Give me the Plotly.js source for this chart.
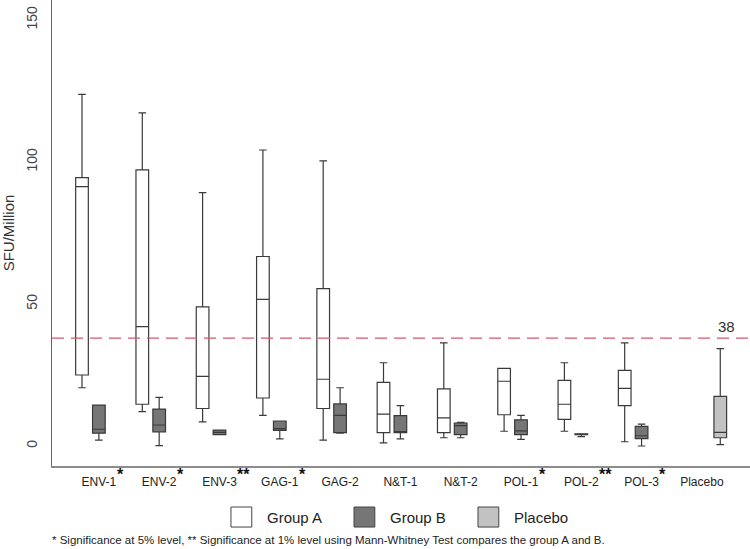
<!DOCTYPE html>
<html>
<head>
<meta charset="utf-8">
<script src="https://cdn.plot.ly/plotly-3.0.1.min.js"></script>
<style>html,body{margin:0;padding:0;background:#fff;}#chart{width:750px;height:549px;}</style>
</head>
<body>
<div id="chart"></div>
<script>
// ---- data ----
const categories = ['ENV-1', 'ENV-2', 'ENV-3', 'GAG-1', 'GAG-2', 'N&T-1', 'N&T-2', 'POL-1', 'POL-2', 'POL-3'];
const stars      = ['*', '*', '**', '*', '', '', '', '*', '**', '*'];

// Group A box statistics
const aLower  = [20.5, 12.1, 8.5, 10.8, 2.1, 1.1, 2.9, 5.2, 5.2, 1.5];
const aQ1     = [25.0, 14.7, 13.2, 16.9, 13.2, 4.7, 4.7, 11.0, 9.4, 14.2];
const aMedian = [91.3, 42.0, 24.5, 51.6, 23.5, 11.2, 9.9, 22.8, 14.7, 20.3];
const aQ3     = [94.5, 97.2, 49.0, 66.7, 55.4, 22.4, 20.1, 27.3, 23.1, 26.6];
const aUpper  = [123.8, 117.3, 89.2, 104.2, 100.4, 29.3, 36.3, 27.3, 29.3, 36.3];

// Group B box statistics
const bLower  = [2.1, 0.1, 4.0, 2.5, 4.5, 2.5, 2.9, 2.3, 3.3, 0.0];
const bQ1     = [4.5, 5.0, 4.0, 5.5, 4.7, 4.7, 4.0, 4.0, 4.0, 2.6];
const bMedian = [5.9, 7.4, 4.8, 6.1, 10.8, 5.0, 7.2, 5.3, 4.2, 3.6];
const bQ3     = [14.4, 13.0, 5.6, 8.8, 14.8, 10.7, 8.1, 9.2, 4.3, 6.9];
const bUpper  = [14.4, 17.1, 5.6, 8.8, 20.5, 14.2, 8.3, 10.8, 4.3, 7.7];

// Placebo box statistics
const placeboLabel  = 'Placebo';
const placeboLower  = [0.5];
const placeboQ1     = [2.9];
const placeboMedian = [4.8];
const placeboQ3     = [17.5];
const placeboUpper  = [34.3];

const threshold = 38;
const yTicks = [0, 50, 100, 150];
const legendNames = ['Group A', 'Group B', 'Placebo'];
const footnote = '* Significance at 5% level, ** Significance at 1% level using Mann-Whitney Test compares the group A and B.';

// ---- layout helpers ----
const colA = '#ffffff', colB = '#767676', colP = '#c2c2c2', boxLine = '#3a3a3a';
const offB = 0.28, offP = 0.585, boxW = 0.21;
const font = 'Liberation Sans, Arial, sans-serif';
const tickSize = 12;

const aPos = categories.map((_, i) => i);
const bPos = categories.map((_, i) => i + offB);
const pPos = [categories.length + offP];
const allLabels = categories.concat([placeboLabel]);
const tickPos = allLabels.map((_, i) => i + offB);

function boxTrace(name, x, lo, q1, med, q3, up, fill) {
  return {
    type: 'box', name: name, x: x,
    lowerfence: lo, q1: q1, median: med, q3: q3, upperfence: up,
    width: boxW, whiskerwidth: 0.6, boxpoints: false,
    fillcolor: fill, line: { color: boxLine, width: 1.2 },
    showlegend: false, hoverinfo: 'skip'
  };
}

const data = [
  boxTrace(legendNames[0], aPos, aLower, aQ1, aMedian, aQ3, aUpper, colA),
  boxTrace(legendNames[1], bPos, bLower, bQ1, bMedian, bQ3, bUpper, colB),
  boxTrace(legendNames[2], pPos, placeboLower, placeboQ1, placeboMedian, placeboQ3, placeboUpper, colP)
];

// measure tick label widths so significance stars sit just after each label
const ctx = document.createElement('canvas').getContext('2d');
ctx.font = tickSize + 'px "Liberation Sans", Arial, sans-serif';

const shapes = [{
  type: 'line', xref: 'paper', x0: 0, x1: 1, yref: 'y', y0: threshold, y1: threshold,
  line: { color: '#d4586a', width: 1.3, dash: '12px,7px' }
}];
const annotations = [{
  xref: 'paper', x: 0.981, yref: 'y', y: threshold, yshift: 12, text: String(threshold),
  showarrow: false, font: { family: font, size: 15, color: '#333' }
}];

categories.forEach((c, i) => {
  if (!stars[i]) return;
  const w = ctx.measureText(c).width;
  annotations.push({
    xref: 'x', x: tickPos[i], xanchor: 'left', xshift: w / 2 - 1.5,
    yref: 'paper', y: 0, yanchor: 'top', yshift: 2,
    text: stars[i], showarrow: false,
    font: { family: font, size: 16, color: '#111', weight: 'bold' }
  });
});

// legend drawn below the plot
const legendFills = [colA, colB, colP];
const legendX = [0.2564, 0.4327, 0.6103];
const sqW = 0.0298, legY0 = -0.088, legY1 = -0.131;
legendNames.forEach((n, i) => {
  shapes.push({
    type: 'rect', xref: 'paper', yref: 'paper',
    x0: legendX[i], x1: legendX[i] + sqW, y0: legY0, y1: legY1,
    fillcolor: legendFills[i], line: { color: '#444', width: 1 }
  });
  annotations.push({
    xref: 'paper', yref: 'paper', x: legendX[i] + sqW + 0.019, y: (legY0 + legY1) / 2,
    xanchor: 'left', yanchor: 'middle', text: n, showarrow: false,
    font: { family: font, size: 15, color: '#222' }
  });
});
annotations.push({
  xref: 'paper', yref: 'paper', x: -0.003, y: -0.1588, xanchor: 'left', yanchor: 'middle',
  text: footnote, showarrow: false, font: { family: font, size: 11.5, color: '#222' }
});

const layout = {
  width: 750, height: 549,
  margin: { l: 52, r: 0, t: 0, b: 83, pad: 0 },
  paper_bgcolor: '#ffffff', plot_bgcolor: '#ffffff',
  showlegend: false, boxmode: 'overlay',
  font: { family: font },
  xaxis: {
    range: [-0.4975, 11.078], tickmode: 'array', tickvals: tickPos, ticktext: allLabels,
    showgrid: false, zeroline: false, showline: true, linecolor: '#8c8c8c', linewidth: 2,
    ticks: '', ticklabelstandoff: 4, tickfont: { family: font, size: tickSize, color: '#222' }, fixedrange: true
  },
  yaxis: {
    range: [-7.04, 157], tickmode: 'array', tickvals: yTicks, tickangle: -90,
    showgrid: false, zeroline: false, showline: true, linecolor: '#666', linewidth: 1.5,
    ticks: '', ticklabelstandoff: 8, tickfont: { family: font, size: 14, color: '#444' },
    title: { text: 'SFU/Million', font: { family: font, size: 15, color: '#333' }, standoff: 8 },
    automargin: false, fixedrange: true
  },
  shapes: shapes,
  annotations: annotations
};

Plotly.newPlot('chart', data, layout, { staticPlot: true, displayModeBar: false });
</script>
</body>
</html>
